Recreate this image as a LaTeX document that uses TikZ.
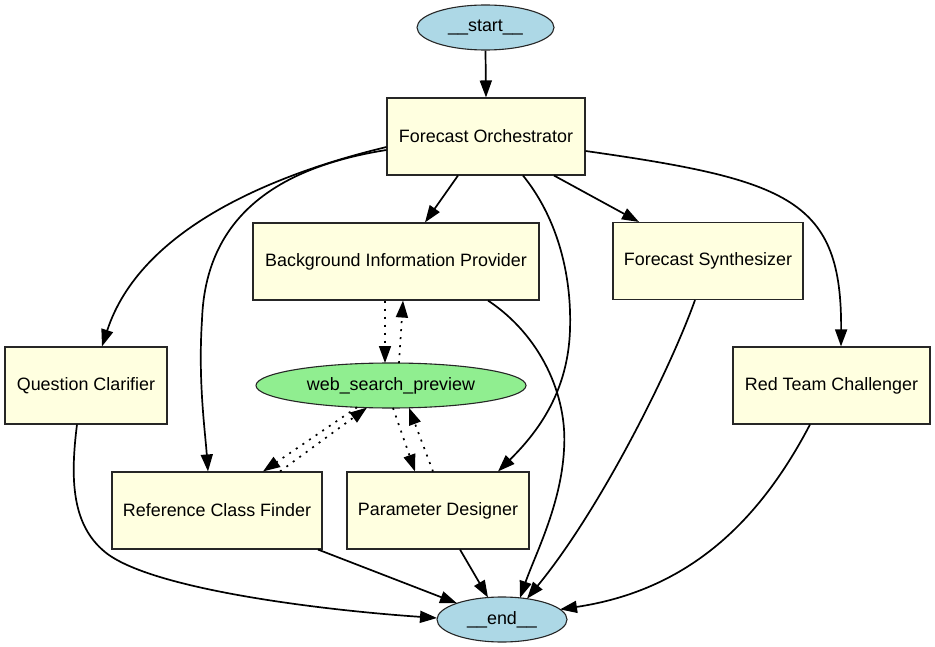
\documentclass[tikz,border=0pt]{standalone}
\usepackage{fontspec}
\setmainfont{Liberation Sans}
\usetikzlibrary{shapes.geometric,arrows.meta,calc}
\definecolor{boxfill}{HTML}{FFFFE0}
\definecolor{termfill}{HTML}{ADD8E6}
\definecolor{toolfill}{HTML}{90EE90}
\begin{document}
\begin{tikzpicture}[x=1pt,y=-1pt,
  lbl/.style={font=\fontsize{17.9}{21}\selectfont, inner sep=0pt, draw=black!85, line width=1.1pt},
  agent/.style={lbl, rectangle, fill=boxfill, minimum height=77pt},
  term/.style={lbl, ellipse, fill=termfill, minimum height=45pt},
  tool/.style={lbl, ellipse, fill=toolfill, minimum height=45pt},
  edge/.style={line width=1.7pt, -{Triangle[length=17pt,width=12pt]}},
  dotedge/.style={edge, dash pattern=on 2pt off 6pt}]
\useasboundingbox (0,0) rectangle (935,647);
\fill[white] (0,0) rectangle (935,647);

\node[term, minimum width=137pt] (start) at (485.5,27.5) {\_\_start\_\_};
\node[agent, minimum width=198pt] (orch) at (486,136.5) {Forecast Orchestrator};
\node[agent, minimum width=286pt] (bg) at (396,261.5) {Background Information Provider};
\node[agent, minimum width=190pt] (syn) at (708,261) {Forecast Synthesizer};
\node[agent, minimum width=162pt] (qc) at (86,385.5) {Question Clarifier};
\node[tool, minimum width=270pt] (ws) at (391,385.5) {web\_search\_preview};
\node[agent, minimum width=197pt] (rt) at (831.5,385.5) {Red Team Challenger};
\node[agent, minimum width=210pt] (rcf) at (217,510.5) {Reference Class Finder};
\node[agent, minimum width=182pt] (pd) at (438,510.5) {Parameter Designer};
\node[term, minimum width=130pt] (end) at (502,619.5) {\_\_end\_\_};

% solid edges
\draw[edge] (start.south) -- (orch.north);
\draw[edge] ($(orch.south)+(-28,0)$) -- ($(bg.north)+(29,0)$);
\draw[edge] ($(orch.south)+(68,0)$) -- ($(syn.north)+(-69,0)$);
\draw[edge] ($(orch.east)+(0,14.5)$) .. controls (790,180) and (842,200) .. ($(rt.north)+(9.5,0)$);
\draw[edge] ($(orch.west)+(0,10.5)$) .. controls (270,175) and (140,230) .. ($(qc.north)+(16,0)$);
\draw[edge] ($(orch.west)+(0,13.5)$) .. controls (260,170) and (205,230) .. (202,320)
   .. controls (198,380) and (205,430) .. ($(rcf.north)+(-9,0)$);
\draw[edge] ($(orch.south)+(37,0)$) .. controls (555,215) and (572,270) .. (570,330)
   .. controls (568,390) and (540,430) .. ($(pd.north)+(60,0)$);
\draw[edge] ($(bg.south)+(92,0)$) .. controls (540,335) and (568,395) .. (564,450)
   .. controls (561,505) and (535,555) .. ($(end)+(18,-21.5)$);
\draw[edge] ($(syn.south)+(-13,0)$) .. controls (670,370) and (600,510) .. ($(end)+(25,-20.8)$);
\draw[edge] ($(rt.south)+(-21.5,0)$) .. controls (760,520) and (690,590) .. ($(end)+(58,-10.1)$);
\draw[edge] ($(qc.south)+(-9,0)$) .. controls (70,480) and (72,525) .. (105,552)
   .. controls (150,589) and (320,610) .. ($(end)+(-65,-1.5)$);
\draw[edge] ($(rcf.south)+(101,0)$) -- ($(end)+(-45,-16.2)$);
\draw[edge] ($(pd.south)+(22,0)$) -- ($(end)+(-14,-22)$);

% dotted tool edges
\draw[dotedge] ($(bg.south)+(-11,0)$) -- ($(ws)+(-6,-22.5)$);
\draw[dotedge] ($(ws)+(8,-22.4)$) -- ($(bg.south)+(7,0)$);
\draw[dotedge] ($(rcf.north)+(63,0)$) -- ($(ws)+(-24,22.1)$);
\draw[dotedge] ($(ws)+(-34,21.8)$) -- ($(rcf.north)+(46,0)$);
\draw[dotedge] ($(ws)+(2,22.5)$) -- ($(pd.north)+(-23,0)$);
\draw[dotedge] ($(pd.north)+(-5,0)$) -- ($(ws)+(18,22.3)$);
\end{tikzpicture}
\end{document}
